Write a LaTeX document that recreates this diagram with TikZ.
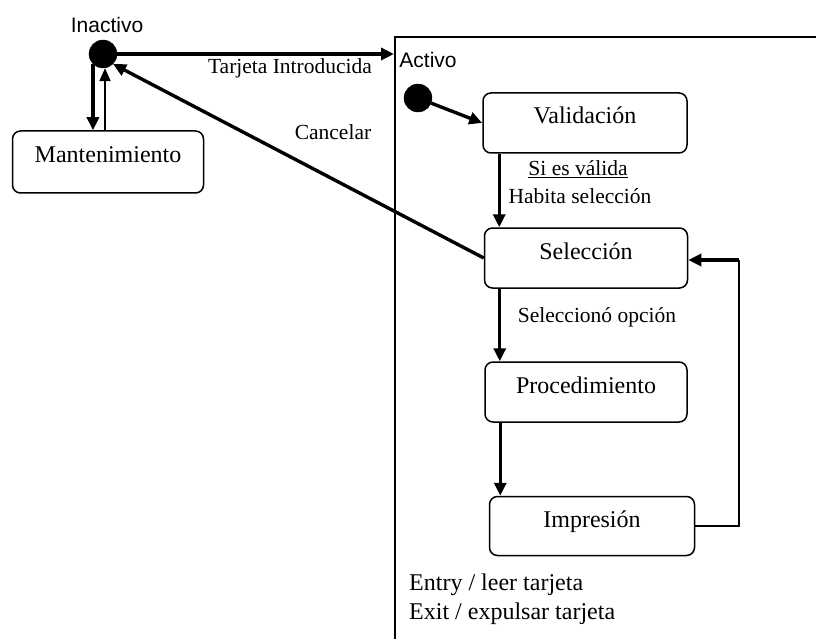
\documentclass[tikz,border=0pt]{standalone}
\usepackage{fontspec}
\setmainfont{Liberation Serif}
\newfontfamily\labsans{Liberation Sans}
\usetikzlibrary{arrows.meta}
\begin{document}
\begin{tikzpicture}[x=1pt,y=-1pt,
  statebox/.style={draw, line width=1.5pt, rounded corners=8pt, inner sep=0pt,
    font=\fontsize{24}{26}\selectfont, text height=16pt, text depth=14pt},
  dotnode/.style={circle, fill=black, draw=black, minimum size=28pt, inner sep=0pt},
  bigarrow/.style={line width=3.4pt, -{Triangle[length=13pt,width=12pt]}},
  thinarrow/.style={line width=1.8pt, -{Triangle[length=13pt,width=11pt]}},
  thinline/.style={line width=1.8pt},
  lab/.style={font=\fontsize{21.5}{24}\selectfont, inner sep=0pt},
  sanslab/.style={font=\labsans\fontsize{21}{24}\selectfont, inner sep=0pt}
]
\useasboundingbox (0,0) rectangle (816,639);
% outer composite state
\coordinate (actBL) at (395,639);
\coordinate (actTL) at (395,37);
\coordinate (actTR) at (816,37);
\draw[line width=2pt] (actBL) -- (actTL) -- (actTR);
\coordinate (actIn) at (394,54);

% nodes
\node[dotnode] (ina) at (103,54) {};
\node[sanslab] (inalab) at (107,25) {Inactivo};
\node[statebox, minimum width=191pt, minimum height=62pt] (man) at (108,162) {Mantenimiento};
\node[sanslab] (actlab) at (428,60) {Activo};
\node[dotnode] (ini) at (418,98) {};
\node[statebox, minimum width=204pt, minimum height=60pt] (val) at (585,123) {Validación};
\node[statebox, minimum width=203pt, minimum height=60pt] (sel) at (586,258) {Selección};
\node[statebox, minimum width=202pt, minimum height=60pt] (pro) at (586,392) {Procedimiento};
\node[statebox, minimum width=205pt, minimum height=59pt] (imp) at (592,526) {Impresión};

% labels
\node[lab] (tarj) at (290,68) {Tarjeta Introducida};
\node[lab] (canc) at (333,132) {Cancelar};
\node[lab] (sies) at (578,169) {\underline{Si es válida}};
\node[lab] (habi) at (580,196) {Habita selección};
\node[lab] (seop) at (597,317) {Seleccionó opción};
\node[lab, font=\fontsize{24}{29}\selectfont, align=left, anchor=north west] (entry) at (409,574) {Entry / leer tarjeta\\Exit / expulsar tarjeta};

% connectors
\draw[bigarrow] (ina) -- (actIn);
\draw[bigarrow] (ina.south west) -- (ina.south west |- man.north);
\draw[thinarrow] ([xshift=2pt]ina.south |- man.north) -- ([xshift=2pt]ina.south);
\draw[bigarrow] (sel.west) -- (ina.south east);
\draw[bigarrow] (ini) -- (val.west);
\coordinate (c1) at ([xshift=17pt]val.south west);
\draw[bigarrow] (c1) -- (c1 |- sel.north);
\coordinate (c2) at ([xshift=16pt]sel.south west);
\draw[bigarrow] (c2) -- (c2 |- pro.north);
\coordinate (c3) at ([xshift=16pt]pro.south west);
\draw[bigarrow] (c3) -- (c3 |- imp.north);
\coordinate (loopc) at (739,260);
\draw[thinline] (imp.east) -| (loopc);
\draw[bigarrow] (loopc) -- (loopc -| sel.east);
\end{tikzpicture}
\end{document}
